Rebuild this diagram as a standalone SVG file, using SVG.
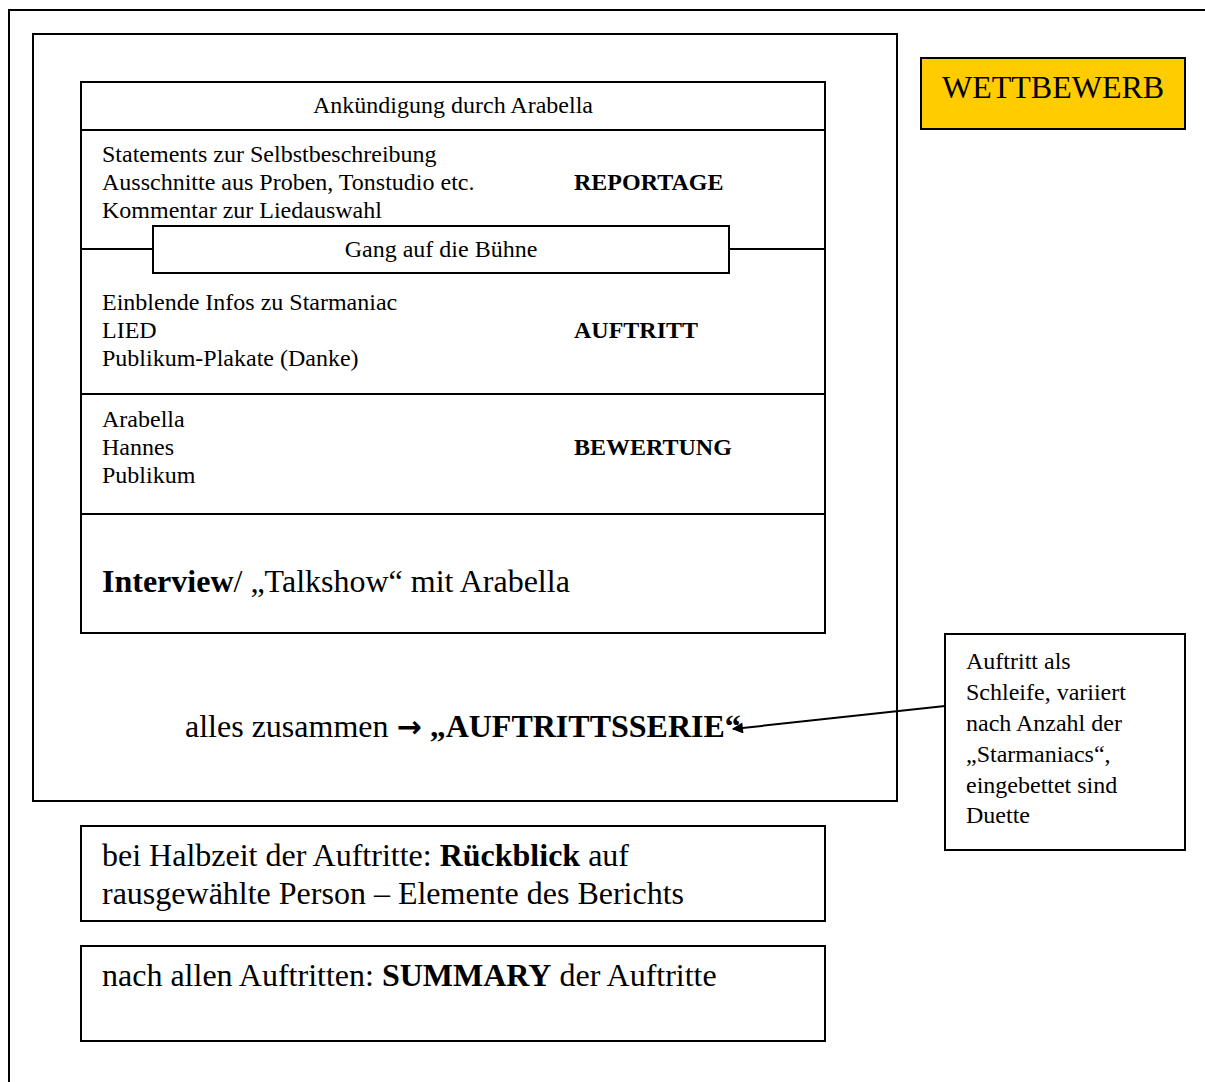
<svg xmlns="http://www.w3.org/2000/svg" width="1205" height="1082" viewBox="0 0 1205 1082">
<style>
text{font-family:"Liberation Serif","Times New Roman",serif;fill:#000}
.s{font-size:24px}
.l{font-size:32px}
.b{font-weight:bold}
.arr{font-family:"DejaVu Sans",sans-serif;font-weight:bold;font-size:30px}
.box{fill:#fff;stroke:#000;stroke-width:2}
.ln{stroke:#000;stroke-width:2;fill:none}
</style>
<defs>
<marker id="ah" viewBox="0 0 10 10" refX="9" refY="5" markerWidth="13" markerHeight="11" orient="auto-start-reverse" markerUnits="userSpaceOnUse">
<path d="M0,0 L10,5 L0,10 Z" fill="#000"/>
</marker>
</defs>
<rect width="1205" height="1082" fill="#fff"/>
<g id="frame">
<path class="ln" d="M9,1090 V10 H1215"/>
</g>
<g id="series">
<rect class="box" x="33" y="34" width="864" height="767"/>
<text class="l" x="185" y="737">alles zusammen <tspan class="arr">→</tspan><tspan class="b"> „AUFTRITTSSERIE“</tspan></text>
</g>
<g id="main">
<rect class="box" x="81" y="82" width="744" height="551"/>
<line class="ln" x1="81" y1="130" x2="825" y2="130"/>
<line class="ln" x1="81" y1="249" x2="825" y2="249"/>
<line class="ln" x1="81" y1="394" x2="825" y2="394"/>
<line class="ln" x1="81" y1="514" x2="825" y2="514"/>
<text class="s" x="453" y="113" text-anchor="middle">Ankündigung durch Arabella</text>
<text class="s" x="102" y="162">Statements zur Selbstbeschreibung</text>
<text class="s" x="102" y="190">Ausschnitte aus Proben, Tonstudio etc.</text>
<text class="s" x="102" y="218">Kommentar zur Liedauswahl</text>
<text class="s b" x="574" y="190">REPORTAGE</text>
<text class="s" x="102" y="310">Einblende Infos zu Starmaniac</text>
<text class="s" x="102" y="338">LIED</text>
<text class="s" x="102" y="366">Publikum-Plakate (Danke)</text>
<text class="s b" x="574" y="338">AUFTRITT</text>
<text class="s" x="102" y="427">Arabella</text>
<text class="s" x="102" y="455">Hannes</text>
<text class="s" x="102" y="483">Publikum</text>
<text class="s b" x="574" y="455">BEWERTUNG</text>
<text class="l" x="102" y="592"><tspan class="b">Interview</tspan>/ „Talkshow“ mit Arabella</text>
</g>
<g id="gang">
<rect class="box" x="153" y="226" width="576" height="47"/>
<text class="s" x="441" y="257" text-anchor="middle">Gang auf die Bühne</text>
</g>
<g id="wettbewerb">
<rect x="921" y="58" width="264" height="71" fill="#FFCC00" stroke="#000" stroke-width="2"/>
<text class="l" x="942" y="98">WETTBEWERB</text>
</g>
<g id="note">
<rect class="box" x="945" y="634" width="240" height="216"/>
<text class="s" x="966" y="669">Auftritt als</text>
<text class="s" x="966" y="700">Schleife, variiert</text>
<text class="s" x="966" y="731">nach Anzahl der</text>
<text class="s" x="966" y="762">„Starmaniacs“,</text>
<text class="s" x="966" y="793">eingebettet sind</text>
<text class="s" x="966" y="823">Duette</text>
</g>
<g id="rueckblick">
<rect class="box" x="81" y="826" width="744" height="95"/>
<text class="l" x="102" y="866">bei Halbzeit der Auftritte: <tspan class="b">Rückblick</tspan> auf</text>
<text class="l" x="102" y="904">rausgewählte Person – Elemente des Berichts</text>
</g>
<g id="summary">
<rect class="box" x="81" y="946" width="744" height="95"/>
<text class="l" x="102" y="986">nach allen Auftritten: <tspan class="b">SUMMARY</tspan> der Auftritte</text>
</g>
<g id="connectors">
<line class="ln" x1="945" y1="706" x2="733" y2="729" marker-end="url(#ah)"/>
</g>
</svg>
